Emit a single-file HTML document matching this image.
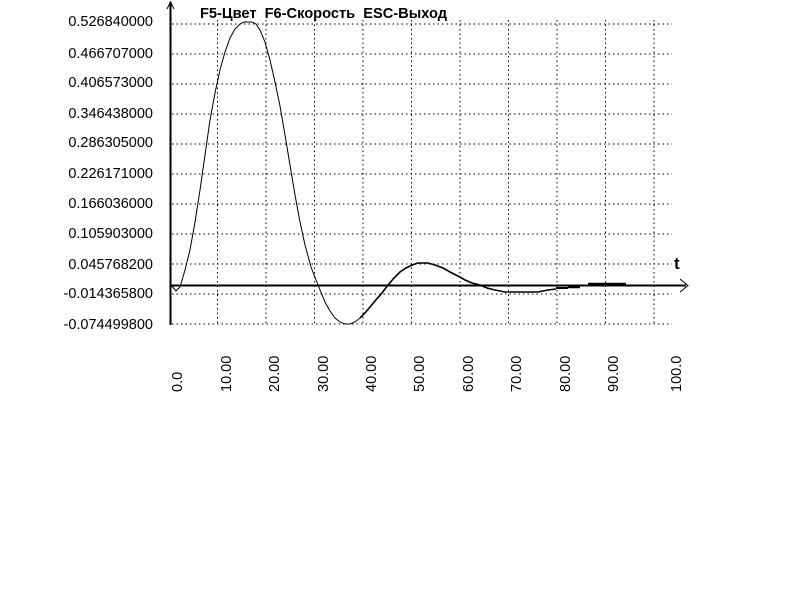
<!DOCTYPE html>
<html><head><meta charset="utf-8"><style>
html,body{margin:0;padding:0;background:#fff;width:800px;height:600px;overflow:hidden}
svg{display:block}
text{font-family:"Liberation Sans","DejaVu Sans",sans-serif;font-size:14.5px;fill:#000}
</style></head><body>
<svg width="800" height="600" viewBox="0 0 800 600">
<g stroke="#000" stroke-width="1" stroke-dasharray="1.5 3">
<line x1="172" y1="24" x2="672" y2="24"/><line x1="172" y1="54" x2="672" y2="54"/>
<line x1="172" y1="84" x2="672" y2="84"/><line x1="172" y1="114" x2="672" y2="114"/>
<line x1="172" y1="144" x2="672" y2="144"/><line x1="172" y1="174" x2="672" y2="174"/>
<line x1="172" y1="204" x2="672" y2="204"/><line x1="172" y1="234" x2="672" y2="234"/>
<line x1="172" y1="264" x2="672" y2="264"/><line x1="172" y1="294" x2="672" y2="294"/>
<line x1="172" y1="324" x2="672" y2="324"/>
<line x1="217.5" y1="20" x2="217.5" y2="324"/><line x1="266" y1="20" x2="266" y2="324"/>
<line x1="314.5" y1="20" x2="314.5" y2="324"/><line x1="363" y1="20" x2="363" y2="324"/>
<line x1="411.5" y1="20" x2="411.5" y2="324"/><line x1="460" y1="20" x2="460" y2="324"/>
<line x1="508.5" y1="20" x2="508.5" y2="324"/><line x1="557" y1="20" x2="557" y2="324"/>
<line x1="605.5" y1="20" x2="605.5" y2="324"/><line x1="654" y1="20" x2="654" y2="324"/>
</g>
<line x1="170.5" y1="2" x2="170.5" y2="325" stroke="#000" stroke-width="2"/>
<polyline points="167,9 170.5,2 174,9" fill="none" stroke="#000"/>
<line x1="170" y1="285.5" x2="686" y2="285.5" stroke="#000" stroke-width="2"/>
<polyline points="680,279 688,285.5 680,292" fill="none" stroke="#000"/>
<text x="674" y="269" style="font-size:17px;font-weight:bold">t</text>
<text x="200" y="18" xml:space="preserve" textLength="247" lengthAdjust="spacingAndGlyphs" style="font-weight:bold;font-size:15px">F5-Цвет  F6-Скорость  ESC-Выход</text>
<g text-anchor="end">
<text x="153" y="26">0.526840000</text><text x="153" y="58">0.466707000</text>
<text x="153" y="87">0.406573000</text><text x="153" y="118">0.346438000</text>
<text x="153" y="147">0.286305000</text><text x="153" y="178">0.226171000</text>
<text x="153" y="208">0.166036000</text><text x="153" y="238">0.105903000</text>
<text x="153" y="269">0.045768200</text><text x="153" y="298">-0.014365800</text>
<text x="153" y="329">-0.074499800</text>
</g>
<g text-anchor="start" style="font-size:14px">
<text transform="translate(182,392) rotate(-90)">0.0</text>
<text transform="translate(231,392) rotate(-90)">10.00</text>
<text transform="translate(279,392) rotate(-90)">20.00</text>
<text transform="translate(328,392) rotate(-90)">30.00</text>
<text transform="translate(376,392) rotate(-90)">40.00</text>
<text transform="translate(424,392) rotate(-90)">50.00</text>
<text transform="translate(473,392) rotate(-90)">60.00</text>
<text transform="translate(521,392) rotate(-90)">70.00</text>
<text transform="translate(570,392) rotate(-90)">80.00</text>
<text transform="translate(618,392) rotate(-90)">90.00</text>
<text transform="translate(681,392) rotate(-90)">100.0</text>
</g>
<polyline fill="none" stroke="#000" stroke-width="1" points="171,285 176,291 180,287 185,270 190,250 195,222 200,190 205,155 210,120 215,93 220,70 225,52 230,38 235,29 240,24 244,22 252,22 256,24 260,30 265,42 270,60 275,82 280,106 285,135 290,165 295,195 300,222 305,245 311,267 318,285 325,302 330,311 335,318 340,322 345,324 350,324 355,322 360,318"/>
<polyline fill="none" stroke="#000" stroke-width="1.6" points="360,318 365,313 370,307 375,301 382,293 388,285 394,278 400,272 406,268 412,265 418,263 428,263 435,265 443,268 450,272 458,276 465,280 472,283 480,285 487,288 495,290 505,292 520,292 538,292 548,290 556,289"/>
<line x1="556" y1="288" x2="568" y2="288" stroke="#000" stroke-width="2"/>
<line x1="568" y1="287" x2="580" y2="287" stroke="#000" stroke-width="2.5"/>
<line x1="588" y1="284" x2="626" y2="284" stroke="#000" stroke-width="2.5"/>
</svg>
</body></html>
